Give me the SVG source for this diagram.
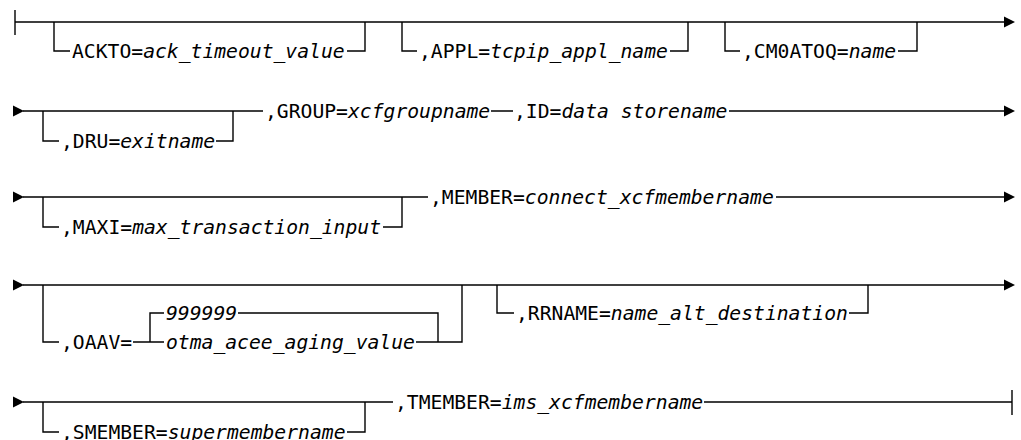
<svg xmlns="http://www.w3.org/2000/svg" width="1021" height="440" viewBox="0 0 1021 440">
<style>
.ln{stroke:#000;stroke-width:1.4;fill:none}
.ar{fill:#000;stroke:none}
.t{font-family:"DejaVu Sans Mono","Liberation Mono",monospace;font-size:19.7px;fill:#000}
.v{font-style:italic}
</style>
<defs>
<path id="arr" class="ar" d="M-11,-5.5 L0,0 L-11,5.5 Z"/>
</defs>
<rect width="1021" height="440" fill="#fff"/>
<g id="connectors">
<path class="ln" d="M15,10 V35 M15,22 H1005"/>
<use href="#arr" x="1015" y="22"/>
<path class="ln" d="M54,22 V51 H70 M347,51 H365 V22"/>
<path class="ln" d="M402,22 V51 H417 M670,51 H688 V22"/>
<path class="ln" d="M725,22 V51 H740 M898,51 H917 V22"/>
<use href="#arr" x="24" y="111"/>
<path class="ln" d="M23,111 H263 M491,111 H513 M729,111 H1005"/>
<use href="#arr" x="1015" y="111"/>
<path class="ln" d="M43,111 V141 H59 M216,141 H233 V111"/>
<use href="#arr" x="24" y="197"/>
<path class="ln" d="M23,197 H428 M776,197 H1005"/>
<use href="#arr" x="1015" y="197"/>
<path class="ln" d="M43,197 V227 H59 M383,227 H402 V197"/>
<use href="#arr" x="24" y="285"/>
<path class="ln" d="M23,285 H1005"/>
<use href="#arr" x="1015" y="285"/>
<path class="ln" d="M43,285 V342 H59 M133,342 H164 M150,342 V313 H164 M238,313 H438 V342 M416,342 H462 V285"/>
<path class="ln" d="M497,285 V313 H514 M849,313 H868 V285"/>
<use href="#arr" x="24" y="402"/>
<path class="ln" d="M23,402 H393 M704,402 H1012 M1012,390 V415"/>
<path class="ln" d="M43,402 V432 H59 M347,432 H365 V402"/>
</g>
<g id="ackto"><text class="t" x="72" y="58">ACKTO=<tspan class="v">ack_timeout_value</tspan></text></g>
<g id="appl"><text class="t" x="419" y="58">,APPL=<tspan class="v">tcpip_appl_name</tspan></text></g>
<g id="cm0atoq"><text class="t" x="742" y="58">,CM0ATOQ=<tspan class="v">name</tspan></text></g>
<g id="dru"><text class="t" x="61" y="148">,DRU=<tspan class="v">exitname</tspan></text></g>
<g id="group"><text class="t" x="265" y="118">,GROUP=<tspan class="v">xcfgroupname</tspan></text></g>
<g id="id"><text class="t" x="514" y="118">,ID=<tspan class="v">data storename</tspan></text></g>
<g id="maxi"><text class="t" x="61" y="234">,MAXI=<tspan class="v">max_transaction_input</tspan></text></g>
<g id="member"><text class="t" x="430" y="204">,MEMBER=<tspan class="v">connect_xcfmembername</tspan></text></g>
<g id="oaav"><text class="t" x="61" y="349">,OAAV=</text></g>
<g id="oaav-default"><text class="t v" x="166" y="320">999999</text></g>
<g id="oaav-value"><text class="t v" x="166" y="349">otma_acee_aging_value</text></g>
<g id="rrname"><text class="t" x="516" y="320">,RRNAME=<tspan class="v">name_alt_destination</tspan></text></g>
<g id="smember"><text class="t" x="61" y="439">,SMEMBER=<tspan class="v">supermembername</tspan></text></g>
<g id="tmember"><text class="t" x="395" y="409">,TMEMBER=<tspan class="v">ims_xcfmembername</tspan></text></g>
</svg>
